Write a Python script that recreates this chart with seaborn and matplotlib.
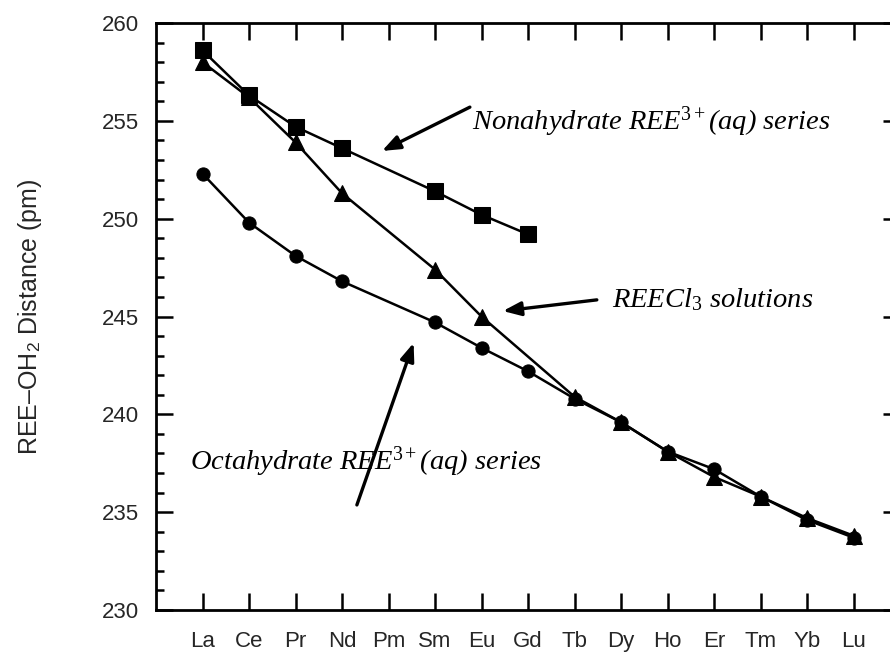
import numpy as np
import pandas as pd
import matplotlib
matplotlib.use("Agg")
import matplotlib.pyplot as plt
from matplotlib.ticker import MultipleLocator, FixedLocator
import seaborn as sns

# ---- data ----
elements = ["La", "Ce", "Pr", "Nd", "Pm", "Sm", "Eu", "Gd", "Tb", "Dy", "Ho", "Er", "Tm", "Yb", "Lu"]

nona_elems = ["La", "Ce", "Pr", "Nd", "Sm", "Eu", "Gd"]
nona_vals = [258.6, 256.3, 254.7, 253.6, 251.4, 250.2, 249.2]

cl_elems = ["La", "Ce", "Pr", "Nd", "Sm", "Eu", "Tb", "Dy", "Ho", "Er", "Tm", "Yb", "Lu"]
cl_vals = [258.0, 256.2, 253.9, 251.3, 247.4, 245.0, 240.9, 239.6, 238.1, 236.8, 235.8, 234.7, 233.8]

octa_elems = ["La", "Ce", "Pr", "Nd", "Sm", "Eu", "Gd", "Tb", "Dy", "Ho", "Er", "Tm", "Yb", "Lu"]
octa_vals = [252.3, 249.8, 248.1, 246.8, 244.7, 243.4, 242.2, 240.8, 239.6, 238.1, 237.2, 235.8, 234.6, 233.7]

series_names = ["Nonahydrate", "REECl3", "Octahydrate"]

frames = []
for name, el, v in [(series_names[0], nona_elems, nona_vals),
                    (series_names[1], cl_elems, cl_vals),
                    (series_names[2], octa_elems, octa_vals)]:
    frames.append(pd.DataFrame({"series": name,
                                "pos": [elements.index(e) for e in el],
                                "value": v}))
df = pd.concat(frames, ignore_index=True)

# ---- style ----
sns.set_theme(style="ticks")
plt.rcParams["font.family"] = ["Liberation Sans", "DejaVu Sans"]
plt.rcParams["mathtext.fontset"] = "custom"
plt.rcParams["mathtext.it"] = "Liberation Serif:italic"
plt.rcParams["mathtext.rm"] = "Liberation Serif"
plt.rcParams["mathtext.sf"] = "Liberation Sans"

fig = plt.figure(figsize=(8.90, 6.53), dpi=100)
ax = fig.add_axes([156 / 890, 1 - 610 / 653, 744 / 890, 587 / 653])

markers = {"Nonahydrate": "s", "REECl3": "^", "Octahydrate": "o"}
sizes = {"Nonahydrate": 11, "REECl3": 11, "Octahydrate": 9.5}
for name in series_names:
    sub = df[df["series"] == name]
    sns.lineplot(data=sub, x="pos", y="value", ax=ax, color="black",
                 marker=markers[name], markersize=sizes[name],
                 markeredgecolor="black", linewidth=1.8, sort=False,
                 legend=False)

ax.set_xlim(-1, 15)
ax.set_ylim(230, 260)

ax.xaxis.set_major_locator(FixedLocator(range(len(elements))))
ax.set_xticklabels(elements)
ax.yaxis.set_major_locator(MultipleLocator(5))
ax.yaxis.set_minor_locator(MultipleLocator(1))

ax.tick_params(axis="both", which="both", direction="in",
               top=True, right=True, color="black", width=1.8)
ax.tick_params(axis="x", which="major", length=12, pad=15, labelsize=16)
ax.tick_params(axis="y", which="major", length=12, pad=12, labelsize=16)
ax.tick_params(axis="y", which="minor", length=6)
ax.tick_params(axis="x", which="minor", bottom=False, top=False)

for s in ax.spines.values():
    s.set_linewidth(2.0)
    s.set_color("black")

ax.set_xlabel("")
ax.set_ylabel(r"REE–OH$_\mathsf{2}$ Distance (pm)", fontsize=18)
ax.yaxis.set_label_coords(-0.150, 0.5)

# ---- annotations ----
tfont = dict(family="Liberation Serif", style="italic", fontsize=20.5, color="black")
arrow = dict(arrowstyle="-|>,head_length=0.9,head_width=0.35", color="black",
             lw=2.4, shrinkA=0, shrinkB=0)

ax.text(5.79, 254.95, r"Nonahydrate REE$^{\mathit{3+}}$(aq) series", va="center", ha="left", **tfont)
ax.annotate("", xy=(3.86, 253.46), xytext=(5.75, 255.7), arrowprops=arrow)

ax.text(8.80, 245.85, r"REECl$_{\mathit{3}}$ solutions", va="center", ha="left", **tfont)
ax.annotate("", xy=(6.46, 245.28), xytext=(8.48, 245.85), arrowprops=arrow)

ax.text(-0.27, 237.57, r"Octahydrate REE$^{\mathit{3+}}$(aq) series", va="center", ha="left", **tfont)
ax.annotate("", xy=(4.54, 243.65), xytext=(3.32, 235.37), arrowprops=arrow)

fig.savefig("out.png", dpi=100)
